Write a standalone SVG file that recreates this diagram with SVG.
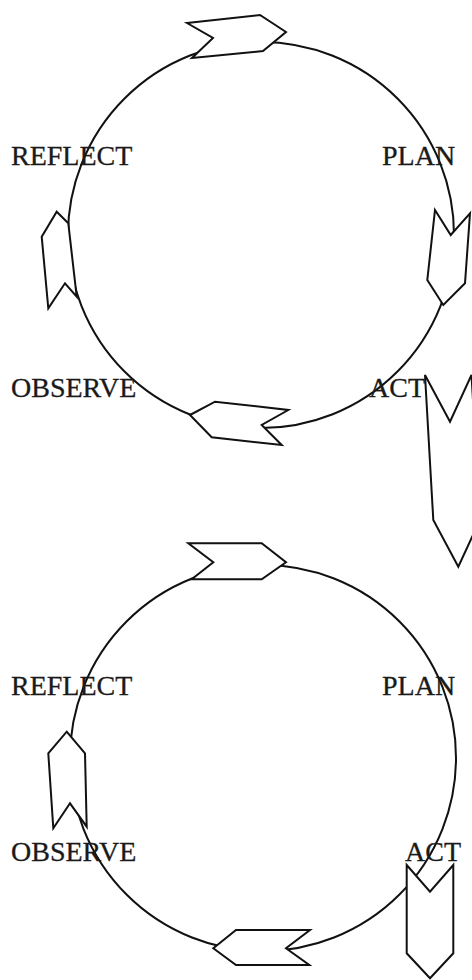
<svg xmlns="http://www.w3.org/2000/svg" width="472" height="980" viewBox="0 0 472 980">
<style>
.ring{fill:none;stroke:#111;stroke-width:2}
.arr{fill:#fff;stroke:#111;stroke-width:2;stroke-linejoin:miter}
.lbl{font-family:"Liberation Serif","Times New Roman",serif;font-size:28px;fill:#1a1a1a;stroke:#1a1a1a;stroke-width:0.3}
</style>
<rect width="472" height="980" fill="#fff"/>
<g id="connectors">
<circle class="ring" cx="261" cy="235" r="193"/>
<circle class="ring" cx="263" cy="758" r="193"/>
</g>
<g id="cycle1-arrow-top"><polygon class="arr" points="187,23 260,15 286,32 263,51 192,58 213,38"/></g>
<g id="cycle1-arrow-right"><polygon class="arr" points="435,210 450.7,235 470,213.3 465,283.3 443.3,305 427.3,280"/></g>
<g id="cycle1-arrow-bottom"><polygon class="arr" points="190,415 215,401.7 288.3,410 261.7,425 281.7,445 211.7,437.3"/></g>
<g id="cycle1-arrow-left"><polygon class="arr" points="56.7,211.7 68.3,223.3 76.7,296.7 65,283.3 48.3,308.3 41.7,236.7"/></g>
<g id="transition-arrow"><polygon class="arr" points="425,375 450,421.7 471.5,375 480,520 458.3,566.7 433.3,520"/></g>
<g id="cycle2-arrow-top"><polygon class="arr" points="188.3,543.3 261.7,543.3 286,562.3 261.7,579.3 191.7,579.3 213.3,562.3"/></g>
<g id="cycle2-arrow-left"><polygon class="arr" points="66.7,731.7 85,753.3 86.7,826.7 70,803.3 53.3,828.3 48.3,753.3"/></g>
<g id="cycle2-arrow-bottom"><polygon class="arr" points="213.3,948.3 236,930 310,930 286,948.3 309.3,965 236,965"/></g>
<g id="cycle2-arrow-right"><polygon class="arr" points="406.7,865 430,891.7 453.3,865 453.3,953.3 430,978.3 406.7,953.3"/></g>
<g id="cycle1-reflect"><text class="lbl" x="11" y="165">REFLECT</text></g>
<g id="cycle1-plan"><text class="lbl" x="382" y="165">PLAN</text></g>
<g id="cycle1-observe"><text class="lbl" x="11" y="397">OBSERVE</text></g>
<g id="cycle1-act"><text class="lbl" x="369" y="397">ACT</text></g>
<g id="cycle2-reflect"><text class="lbl" x="11" y="695">REFLECT</text></g>
<g id="cycle2-plan"><text class="lbl" x="382" y="695">PLAN</text></g>
<g id="cycle2-observe"><text class="lbl" x="11" y="861">OBSERVE</text></g>
<g id="cycle2-act"><text class="lbl" x="405" y="861">ACT</text></g>
</svg>
